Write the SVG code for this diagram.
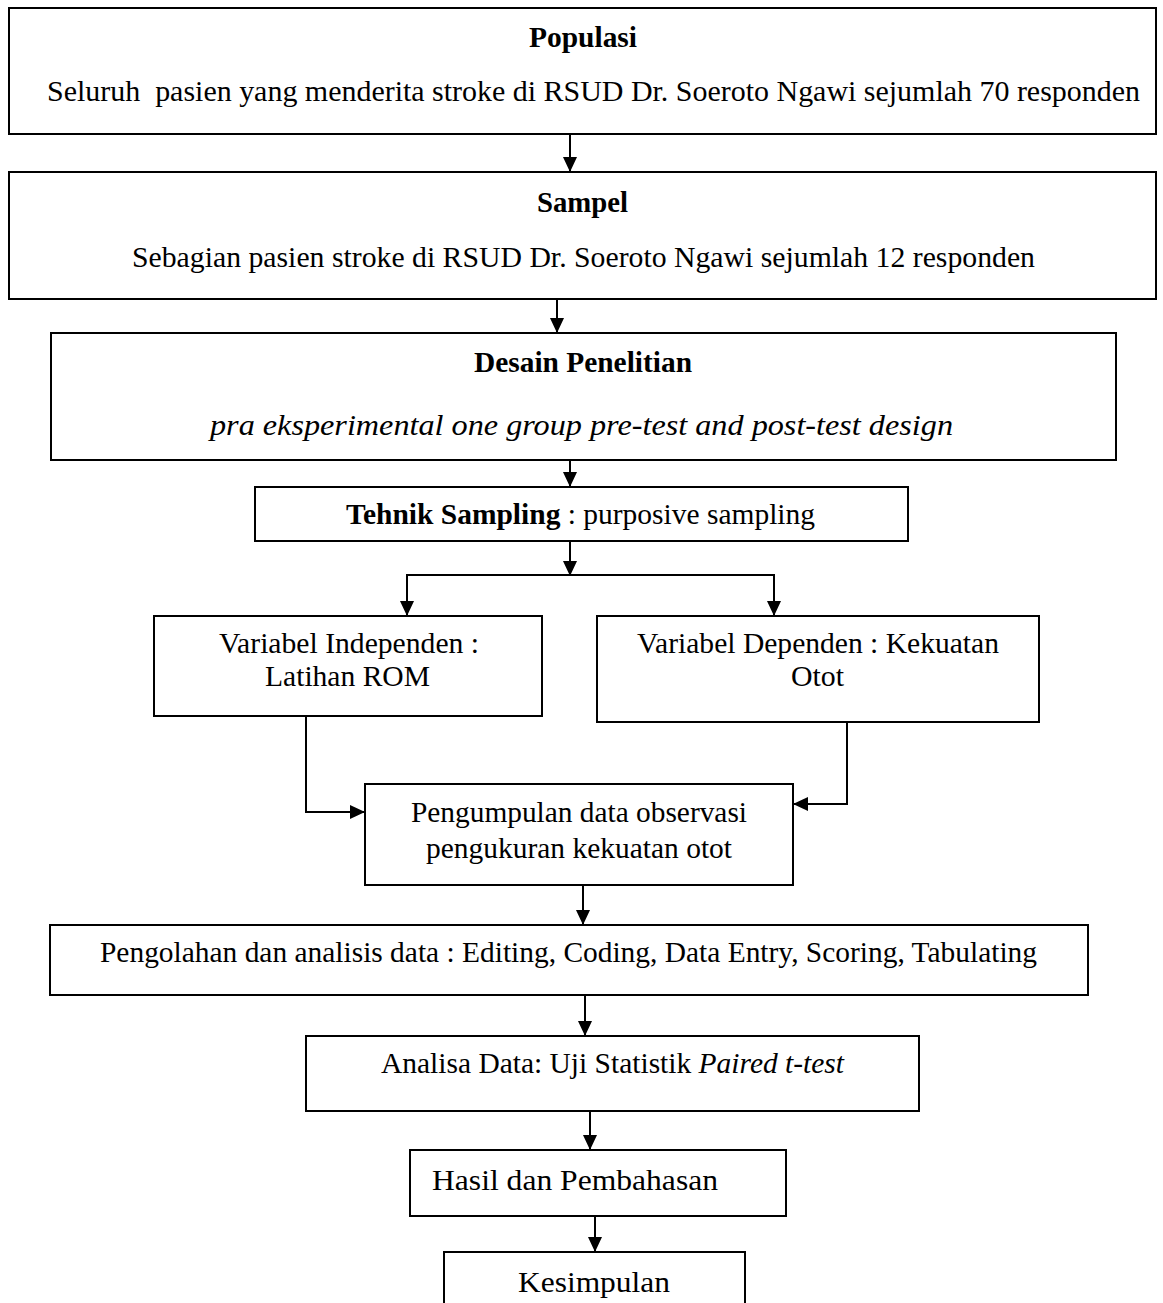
<svg xmlns="http://www.w3.org/2000/svg" width="1163" height="1303" viewBox="0 0 1163 1303">
<style>
.box{fill:#fff;stroke:#000;stroke-width:2}
.t{font-family:"Liberation Serif","Times New Roman",serif;font-size:29px;fill:#000}
.b{font-weight:bold}
.i{font-style:italic}
.c{fill:none;stroke:#000;stroke-width:2}
</style>
<defs>
<marker id="ah" markerUnits="userSpaceOnUse" markerWidth="16" markerHeight="14" refX="15" refY="7" orient="auto">
<path d="M0,0 L15,7 L0,14 z" fill="#000"/>
</marker>
</defs>
<rect width="1163" height="1303" fill="#fff"/>
<g id="n1">
<rect class="box" x="9" y="8" width="1147" height="126"/>
<text class="t b" x="529" y="47" textLength="108" lengthAdjust="spacingAndGlyphs">Populasi</text>
<text class="t" x="47" y="101" xml:space="preserve" textLength="1093" lengthAdjust="spacingAndGlyphs">Seluruh  pasien yang menderita stroke di RSUD Dr. Soeroto Ngawi sejumlah 70 responden</text>
</g>
<g id="n2">
<rect class="box" x="9" y="172" width="1147" height="127"/>
<text class="t b" x="537" y="212" textLength="91" lengthAdjust="spacingAndGlyphs">Sampel</text>
<text class="t" x="132" y="267" textLength="903" lengthAdjust="spacingAndGlyphs">Sebagian pasien stroke di RSUD Dr. Soeroto Ngawi sejumlah 12 responden</text>
</g>
<g id="n3">
<rect class="box" x="51" y="333" width="1065" height="127"/>
<text class="t b" x="474" y="372" textLength="218" lengthAdjust="spacingAndGlyphs">Desain Penelitian</text>
<text class="t i" x="210" y="435" textLength="743" lengthAdjust="spacingAndGlyphs">pra eksperimental one group pre-test and post-test design</text>
</g>
<g id="n4">
<rect class="box" x="255" y="487" width="653" height="54"/>
<text class="t" x="346" y="524" textLength="469" lengthAdjust="spacingAndGlyphs"><tspan class="b">Tehnik Sampling</tspan> : purposive sampling</text>
</g>
<g id="n5">
<rect class="box" x="154" y="616" width="388" height="100"/>
<text class="t" x="219" y="653" textLength="260" lengthAdjust="spacingAndGlyphs">Variabel Independen :</text>
<text class="t" x="265" y="686" textLength="165" lengthAdjust="spacingAndGlyphs">Latihan ROM</text>
</g>
<g id="n6">
<rect class="box" x="597" y="616" width="442" height="106"/>
<text class="t" x="637" y="653" textLength="362" lengthAdjust="spacingAndGlyphs">Variabel Dependen : Kekuatan</text>
<text class="t" x="791" y="686" textLength="53" lengthAdjust="spacingAndGlyphs">Otot</text>
</g>
<g id="n7">
<rect class="box" x="365" y="784" width="428" height="101"/>
<text class="t" x="411" y="822" textLength="336" lengthAdjust="spacingAndGlyphs">Pengumpulan data observasi</text>
<text class="t" x="426" y="858" textLength="306" lengthAdjust="spacingAndGlyphs">pengukuran kekuatan otot</text>
</g>
<g id="n8">
<rect class="box" x="50" y="925" width="1038" height="70"/>
<text class="t" x="100" y="962" textLength="937" lengthAdjust="spacingAndGlyphs">Pengolahan dan analisis data : Editing, Coding, Data Entry, Scoring, Tabulating</text>
</g>
<g id="n9">
<rect class="box" x="306" y="1036" width="613" height="75"/>
<text class="t" x="381" y="1073" textLength="463" lengthAdjust="spacingAndGlyphs">Analisa Data: Uji Statistik <tspan class="i">Paired t-test</tspan></text>
</g>
<g id="n10">
<rect class="box" x="410" y="1150" width="376" height="66"/>
<text class="t" x="432" y="1190" textLength="286" lengthAdjust="spacingAndGlyphs">Hasil dan Pembahasan</text>
</g>
<g id="n11">
<rect class="box" x="444" y="1252" width="301" height="62"/>
<text class="t" x="518" y="1292" textLength="152" lengthAdjust="spacingAndGlyphs">Kesimpulan</text>
</g>
<g id="connectors">
<line class="c" x1="570" y1="134" x2="570" y2="172" marker-end="url(#ah)"/>
<line class="c" x1="557" y1="299" x2="557" y2="333" marker-end="url(#ah)"/>
<line class="c" x1="570" y1="460" x2="570" y2="487" marker-end="url(#ah)"/>
<line class="c" x1="570" y1="541" x2="570" y2="576" marker-end="url(#ah)"/>
<line class="c" x1="406" y1="575" x2="775" y2="575"/>
<line class="c" x1="407" y1="575" x2="407" y2="616" marker-end="url(#ah)"/>
<line class="c" x1="774" y1="575" x2="774" y2="616" marker-end="url(#ah)"/>
<polyline class="c" points="306,716 306,812 365,812" marker-end="url(#ah)"/>
<polyline class="c" points="847,722 847,804 793,804" marker-end="url(#ah)"/>
<line class="c" x1="583" y1="885" x2="583" y2="925" marker-end="url(#ah)"/>
<line class="c" x1="585" y1="995" x2="585" y2="1036" marker-end="url(#ah)"/>
<line class="c" x1="590" y1="1111" x2="590" y2="1150" marker-end="url(#ah)"/>
<line class="c" x1="595" y1="1216" x2="595" y2="1252" marker-end="url(#ah)"/>
</g>
</svg>
